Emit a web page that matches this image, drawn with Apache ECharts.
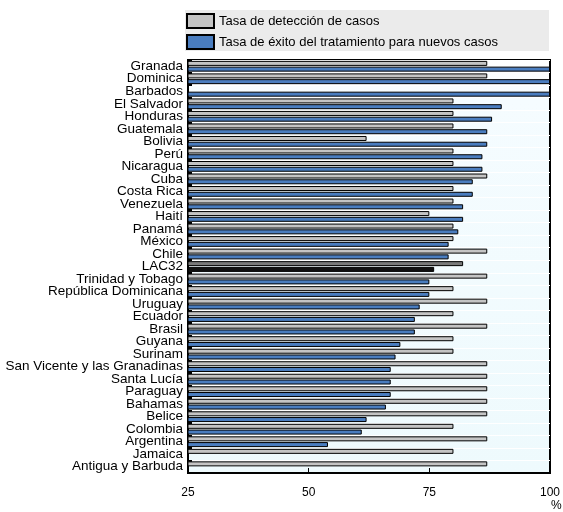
<!DOCTYPE html>
<html><head><meta charset="utf-8">
<script src="https://cdn.jsdelivr.net/npm/echarts@6/dist/echarts.min.js"></script>
<style>html,body{margin:0;padding:0;background:#fff}#c{width:563px;height:512px}</style>
</head><body><div id="c"></div>
<script>
const categories = ['Granada','Dominica','Barbados','El Salvador','Honduras','Guatemala','Bolivia','Perú','Nicaragua','Cuba','Costa Rica','Venezuela','Haití','Panamá','México','Chile','LAC32','Trinidad y Tobago','República Dominicana','Uruguay','Ecuador','Brasil','Guyana','Surinam','San Vicente y las Granadinas','Santa Lucía','Paraguay','Bahamas','Belice','Colombia','Argentina','Jamaica','Antigua y Barbuda'];
const detection = [87,87,null,80,80,80,62,80,80,87,80,80,75,80,80,87,82,87,80,87,80,87,80,80,87,87,87,87,87,80,87,80,87];
const success = [100,100,100,90,88,87,87,86,86,84,84,82,82,81,79,79,76,75,75,73,72,72,69,68,67,67,67,66,62,61,54,null,null];
const seriesNames = ['Tasa de detección de casos','Tasa de éxito del tratamiento para nuevos casos'];
const xTicks = {min:25, max:100, interval:25};
const highlight = 'LAC32';

const GRAY = '#c4c4c4', BLUE = '#4a7dbf', DGRAY = '#7a7a7a', BLACK = '#111';
function mk(vals, hcolor){
  return vals.map((v,i)=> categories[i]===highlight ? {value:v, itemStyle:{color:hcolor}} : v);
}
const FONT = '"Liberation Sans", Arial, sans-serif';
const chart = echarts.init(document.getElementById('c'), null, {renderer:'canvas'});
chart.setOption({
  animation:false,
  textStyle:{fontFamily:FONT},
  graphic:[
    {type:'rect', z:-10, shape:{x:185,y:10,width:364,height:41}, style:{fill:'#ebebeb'}},
    {type:'text', x:551, y:500, style:{text:'%', font:'12px "Liberation Sans", Arial, sans-serif', fill:'#000'}}
  ],
  legend:{
    orient:'vertical', left:181, top:8, itemGap:5, itemWidth:27, itemHeight:14,
    textStyle:{fontSize:13, color:'#000', fontFamily:FONT},
    data:seriesNames.map(n=>({name:n, icon:'rect'}))
  },
  grid:{left:188, right:13, top:60, bottom:39, containLabel:false, outerBoundsMode:'none',
    show:true, borderColor:'#000', borderWidth:2,
    backgroundColor:{type:'linear',x:0,y:0,x2:0,y2:1,colorStops:[{offset:0,color:'#ffffff'},{offset:0.1,color:'#f5fcff'},{offset:1,color:'#eefafd'}]}},
  xAxis:{type:'value', min:xTicks.min, max:xTicks.max, interval:xTicks.interval,
    axisLine:{show:true, lineStyle:{color:'#000', width:2}},
    axisTick:{show:true, inside:true, length:5, lineStyle:{color:'#000'}},
    splitLine:{show:false},
    axisLabel:{color:'#000', fontSize:12, margin:14}},
  yAxis:{type:'category', inverse:true, data:categories,
    axisLine:{show:true, lineStyle:{color:'#000', width:2}},
    axisTick:{show:true, inside:true, length:4, lineStyle:{color:'#000', width:2}},
    splitLine:{show:true, lineStyle:{color:'#ffffff', width:1}},
    axisLabel:{color:'#000', fontSize:13.5, margin:5, fontFamily:FONT, interval:0}},
  series:[
    {name:seriesNames[0], type:'bar', data:mk(detection,DGRAY), barWidth:5, barGap:'15%',
      itemStyle:{color:GRAY, borderColor:'#000', borderWidth:1}},
    {name:seriesNames[1], type:'bar', data:mk(success,BLACK), barWidth:5,
      itemStyle:{color:BLUE, borderColor:'#000', borderWidth:1}}
  ]
});
</script></body></html>
